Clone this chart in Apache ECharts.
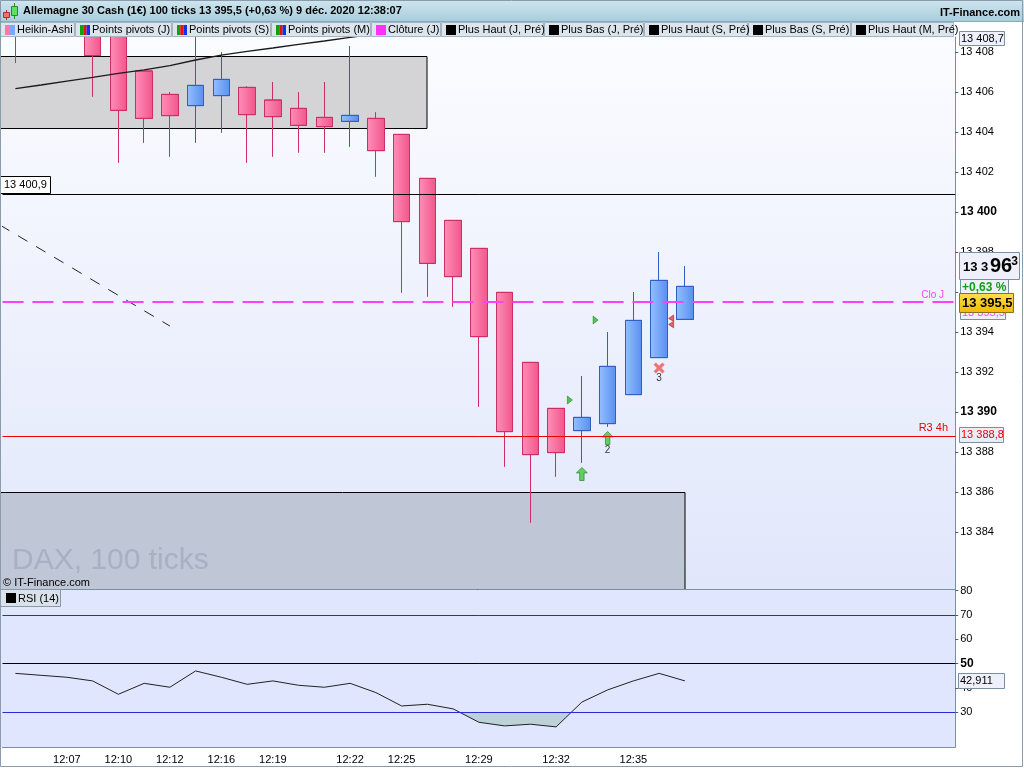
<!DOCTYPE html>
<html>
<head>
<meta charset="utf-8">
<script src="https://cdn.jsdelivr.net/npm/echarts@6/dist/echarts.min.js"></script>
<style>
html, body { margin: 0; padding: 0; background: #fff; }
#chart { width: 1024px; height: 768px; }
</style>
</head>
<body>
<div id="chart"></div>
<script>
// DAX 100 ticks, Heikin-Ashi candles + RSI(14)
var times = ['12:05','12:06','12:07','12:08','12:10','12:11','12:12','12:14','12:16','12:17','12:19','12:20','12:21','12:22',
             '12:24','12:25','12:26','12:27','12:29','12:30','12:31','12:32','12:33','12:34','12:35','12:36','12:38'];
var haOpen  = [13411.0,13410.3,13410.6,13410.5,13409.15,13407.05,13405.88,13405.32,13405.82,13406.23,13405.6,13405.18,13404.73,13404.53,
               13404.68,13403.88,13401.68,13399.58,13398.18,13395.98,13392.48,13390.18,13389.07,13389.42,13390.87,13392.72,13394.63];
var haClose = [13409.6,13410.9,13410.4,13407.82,13405.08,13404.68,13404.82,13406.33,13406.63,13404.87,13404.77,13404.33,13404.27,13404.83,
               13403.07,13399.52,13397.43,13396.77,13393.77,13389.02,13387.87,13387.97,13389.73,13392.28,13394.58,13396.58,13396.28];
var haLow   = [13407.45,13409.2,13409.0,13405.77,13402.47,13403.47,13402.77,13403.47,13403.97,13402.47,13402.77,13402.97,13402.97,13403.27,
               13401.77,13395.97,13395.77,13395.27,13390.27,13387.27,13384.47,13386.77,13387.47,13389.27,13390.87,13392.72,13394.63];
var haHigh  = [13411.5,13411.8,13411.4,13410.8,13409.3,13407.05,13406.0,13409.2,13407.98,13406.28,13406.5,13406.0,13406.5,13408.3,
               13404.98,13403.88,13401.68,13399.58,13398.18,13395.98,13392.48,13390.18,13391.8,13394.0,13396.0,13398.0,13397.3];
var avgLine = [13406.17,13406.35,13406.54,13406.73,13406.93,13407.11,13407.32,13407.6,13407.84,13408.03,13408.2,13408.38,13408.55,13408.73,
               13408.9,13409.05];
var rsi = [46.0,45.2,44.4,42.9,37.4,41.9,40.3,47.0,44.4,41.5,42.9,41.1,40.3,41.9,38.1,32.6,33.3,31.4,25.9,24.4,25.1,24.0,34.2,39.2,42.9,46.0,42.911];

var tickIdx  = [2,4,6,8,10,11,13,15,16,18,19,21,24,25];
var labelIdx = [2,4,6,8,10,13,15,18,21,24];
var priceTicks = [13384,13386,13388,13390,13392,13394,13396,13398,13400,13402,13404,13406,13408];
var rsiTicks = [30,40,50,60,70,80];

var pivotLine = 13400.9, cloJ = 13395.5, r3 = 13388.8, lastPrice = 13395.5, topPrice = 13408.7;
var rsiLow = 30;
var changePct = '+0,63 %';
var trendLine = [[-0.6, 13399.35], [6, 13394.3]];
// zones: [last category, top, bottom]
var zones = [[16, 13407.78, 13404.18], [26, 13385.98, 13381.15]];
var arrowsUp = [[22, 13386.9, ''], [23, 13388.7, '2']];
var triangles = [[22, 13390.6], [23, 13394.6]];
var crosses = [[25, 13392.2, '3']];
var chevrons = [[25, 13394.53]];

var FONT = '"Liberation Sans", Arial, sans-serif';
var NCAT = 37;
var cats = times.slice();
while (cats.length < NCAT) cats.push('');

function fmtNum(v, dec) {
	var s = v.toFixed(dec);
	var parts = s.split('.');
	var ip = parts[0].replace(/\B(?=(\d{3})+(?!\d))/g, ' ');
	return parts.length > 1 ? ip + ',' + parts[1] : ip;
}

var candleData = haOpen.map(function (o, i) { return [o, haClose[i], haLow[i], haHigh[i]]; });
var zoneFill = ['#d4d4d7', '#bfc6d6'];

var G = echarts.graphic;
var pinkGrad = new G.LinearGradient(0, 0, 1, 0, [{offset: 0, color: '#ff8fb8'}, {offset: 1, color: '#f0568a'}]);
var blueGrad = new G.LinearGradient(0, 0, 1, 0, [{offset: 0, color: '#93c0ff'}, {offset: 1, color: '#5a8ef0'}]);

var chart = echarts.init(document.getElementById('chart'));

var option = {
	animation: false,
	textStyle: { fontFamily: FONT },
	grid: [
		{ left: 2.5, right: 68.75, top: 37, bottom: 179 },
		{ left: 2.5, right: 68.75, top: 589.5, bottom: 21 }
	],
	xAxis: [
		{ type: 'category', gridIndex: 0, data: cats, show: false, axisLine: { onZero: false } },
		{
			type: 'category', gridIndex: 1, data: cats,
			axisLine: { onZero: false, lineStyle: { color: '#7890a0' } },
			axisTick: { alignWithLabel: true, length: 4, lineStyle: { color: '#7890a0' },
				interval: function (i) { return tickIdx.indexOf(i) >= 0; } },
			axisLabel: { color: '#000', fontSize: 11, margin: 7,
				interval: function (i) { return labelIdx.indexOf(i) >= 0; } },
			splitLine: { show: false }
		},
		{ type: 'value', gridIndex: 0, min: -0.5, max: NCAT - 0.5, show: false, axisLine: { onZero: false } }
	],
	yAxis: [
		{
			type: 'value', gridIndex: 0, position: 'right', min: 13381.15, max: 13408.75,
			axisLine: { show: true, onZero: false, lineStyle: { color: '#7890a0' } },
			axisTick: { show: true, customValues: priceTicks, length: 3, lineStyle: { color: '#506070' } },
			axisLabel: { customValues: priceTicks, margin: 5, fontSize: 11, color: '#000',
				formatter: function (v) { var s = fmtNum(v, 0); return v % 10 === 0 ? '{b|' + s + '}' : s; },
				rich: { b: { fontWeight: 'bold', fontSize: 12, color: '#000' } } },
			splitLine: { show: false }
		},
		{
			type: 'value', gridIndex: 1, position: 'right', min: 15.73, max: 80.48,
			axisLine: { show: true, onZero: false, lineStyle: { color: '#7890a0' } },
			axisTick: { show: true, customValues: rsiTicks, length: 3, lineStyle: { color: '#506070' } },
			axisLabel: { customValues: rsiTicks, margin: 5, fontSize: 11, color: '#000',
				formatter: function (v) { return v === 50 ? '{b|' + v + '}' : String(v); },
				rich: { b: { fontWeight: 'bold', fontSize: 12, color: '#000' } } },
			splitLine: { show: false }
		}
	],
	series: [
		{
			type: 'custom', xAxisIndex: 0, yAxisIndex: 0, silent: true, data: zones,
			renderItem: function (params, api) {
				var cs = params.coordSys;
				var pTop = api.coord([api.value(0), api.value(1)]);
				var pBot = api.coord([api.value(0), api.value(2)]);
				var x0 = cs.x - 2.5;
				var y0 = Math.max(cs.y, pTop[1]);
				var y1 = Math.min(cs.y + cs.height, pBot[1]);
				return { type: 'rect', shape: { x: x0, y: Math.round(y0) + 0.5, width: Math.round(pTop[0] - x0), height: Math.round(y1 - y0) },
					style: { fill: zoneFill[params.dataIndex], stroke: '#000', lineWidth: 1 } };
			}
		},
		{
			type: 'line', xAxisIndex: 0, yAxisIndex: 0, data: avgLine, symbol: 'none', silent: true,
			lineStyle: { color: '#1a1a1a', width: 1.3 }
		},
		{
			type: 'line', xAxisIndex: 2, yAxisIndex: 0, data: trendLine, symbol: 'none', silent: true,
			lineStyle: { color: '#222', width: 1, type: [11, 10] }
		},
		{
			type: 'candlestick', xAxisIndex: 0, yAxisIndex: 0, barWidth: 17, data: candleData,
			itemStyle: { color: blueGrad, color0: pinkGrad, borderColor: '#2f5fc4', borderColor0: '#cc2f62', borderWidth: 1 },
			markLine: {
				silent: true, symbol: ['none', 'none'], label: { show: false },
				data: [
					{ yAxis: pivotLine, lineStyle: { color: '#000', width: 1, type: 'solid' } },
					{ yAxis: r3, lineStyle: { color: '#f00000', width: 1, type: 'solid' } },
					{ yAxis: cloJ, lineStyle: { color: '#ff40ff', width: 2, type: [21, 9] } }
				]
			}
		},
		{
			type: 'scatter', xAxisIndex: 0, yAxisIndex: 0, data: triangles, silent: true,
			symbol: 'path://M0,0L5,4L0,8Z', symbolSize: [5, 8], symbolOffset: [-12, 0],
			itemStyle: { color: '#2cb82c', borderColor: '#137013', borderWidth: 0.6 }
		},
		{
			type: 'scatter', xAxisIndex: 0, yAxisIndex: 0, data: arrowsUp, silent: true,
			symbol: 'path://M5,0L10,5L7,5L7,12L3,12L3,5L0,5Z', symbolSize: [11, 13],
			itemStyle: { color: '#3cc83c', borderColor: '#1b7d1b', borderWidth: 0.8 },
			label: { show: true, position: 'bottom', distance: 0, fontSize: 10, color: '#000',
				formatter: function (p) { return p.value[2]; } }
		},
		{
			type: 'scatter', xAxisIndex: 0, yAxisIndex: 0, data: crosses, silent: true,
			symbol: 'path://M0,2L2,0L5,3L8,0L10,2L7,5L10,8L8,10L5,7L2,10L0,8L3,5Z', symbolSize: 11,
			itemStyle: { color: '#f05252' },
			label: { show: true, position: 'bottom', distance: 0, fontSize: 10, color: '#000',
				formatter: function (p) { return p.value[2]; } }
		},
		{
			type: 'scatter', xAxisIndex: 0, yAxisIndex: 0, data: chevrons, silent: true,
			symbol: 'path://M5,0L0,3.5L5,6.5L0,9.5L5,13Z', symbolSize: [5, 13], symbolOffset: [12, 0],
			itemStyle: { color: '#e83a3a', borderColor: '#a01818', borderWidth: 0.6 }
		},
		{
			// oversold fill between RSI and the 30 line
			type: 'custom', xAxisIndex: 1, yAxisIndex: 1, silent: true, data: [[0, rsiLow]],
			renderItem: function (params, api) {
				var y30 = api.coord([0, rsiLow])[1];
				var pts = rsi.map(function (v, i) { return api.coord([i, v]); });
				var polys = [], cur = null;
				for (var i = 0; i < rsi.length; i++) {
					var below = rsi[i] < rsiLow;
					if (i > 0) {
						var was = rsi[i - 1] < rsiLow;
						if (below !== was) {
							var t = (rsiLow - rsi[i - 1]) / (rsi[i] - rsi[i - 1]);
							var cx = pts[i - 1][0] + t * (pts[i][0] - pts[i - 1][0]);
							if (below) { cur = [[cx, y30]]; }
							else { cur.push([cx, y30]); polys.push(cur); cur = null; }
						}
					} else if (below) {
						cur = [[pts[0][0], y30]];
					}
					if (below) cur.push(pts[i]);
				}
				if (cur) { cur.push([pts[rsi.length - 1][0], y30]); polys.push(cur); }
				return { type: 'group', children: polys.map(function (p) {
					return { type: 'polygon', shape: { points: p }, style: { fill: '#bcd2d6' } };
				}) };
			}
		},
		{
			type: 'line', xAxisIndex: 1, yAxisIndex: 1, data: rsi, symbol: 'none', silent: true,
			lineStyle: { color: '#222', width: 1 },
			markLine: {
				silent: true, symbol: ['none', 'none'], label: { show: false },
				data: [
					{ yAxis: 70, lineStyle: { color: '#2b2bd6', width: 1, type: 'solid' } },
					{ yAxis: 50, lineStyle: { color: '#000', width: 1, type: 'solid' } },
					{ yAxis: 30, lineStyle: { color: '#2b2bd6', width: 1, type: 'solid' } }
				]
			}
		}
	]
};
chart.setOption(option);

// ---- decorations: panels, header, legend bar, value boxes ----
function py(v) { return chart.convertToPixel({ yAxisIndex: 0 }, v); }
function ry(v) { return chart.convertToPixel({ yAxisIndex: 1 }, v); }

var els = [];
function rect(x, y, w, h, fill, stroke, z) {
	els.push({ type: 'rect', silent: true, z: z, shape: { x: x, y: y, width: w, height: h },
		style: { fill: fill, stroke: stroke || null, lineWidth: 1 } });
}
function line(x1, y1, x2, y2, color, z) {
	els.push({ type: 'line', silent: true, z: z, shape: { x1: x1, y1: y1, x2: x2, y2: y2 },
		style: { stroke: color, lineWidth: 1 } });
}
function text(x, y, str, font, fill, align, z) {
	els.push({ type: 'text', silent: true, z: z || 100, x: x, y: y,
		style: { text: str, font: font, fill: fill || '#000', align: align || 'left', verticalAlign: 'middle' } });
}
function f(size, bold) { return (bold ? 'bold ' : '') + size + 'px ' + FONT; }

// panel backgrounds
rect(0, 37, 955, 552, new G.LinearGradient(0, 0, 0, 1, [{offset: 0, color: '#fbfcff'}, {offset: 1, color: '#e1e7fb'}]), null, -10);
rect(0, 589, 955, 158, '#dfe6fd', null, -10);
line(0.5, 22, 0.5, 747, '#7890a0', 50);
line(0, 589.5, 955, 589.5, '#7890a0', 50);
rect(0.5, 0.5, 1022, 766, null, '#8a9cab', 101);

// header
rect(0, 0, 1024, 21, new G.LinearGradient(0, 0, 0, 1, [{offset: 0, color: '#cfe5ee'}, {offset: 1, color: '#a8cedd'}]), null, 90);
line(0, 21.5, 1024, 21.5, '#8aa8b8', 91);
line(6.5, 10, 6.5, 20, '#b03030', 92);
rect(3.5, 12.5, 6, 5, '#f07070', '#b03030', 93);
line(14.5, 3, 14.5, 19, '#2a8a2a', 92);
rect(11.5, 6.5, 6, 9, '#60e060', '#2a8a2a', 93);
text(23, 11, 'Allemagne 30 Cash (1€) 100 ticks 13 395,5 (+0,63 %) 9 déc. 2020 12:38:07', f(11, true), '#000', 'left', 94);
text(1020, 13, 'IT-Finance.com', f(11, true), '#000', 'right', 94);

// legend bar
var legendItems = [
	['Heikin-Ashi', 0, 75, 'ha'], ['Points pivots (J)', 75, 97, 'pp'], ['Points pivots (S)', 172, 99, 'pp'],
	['Points pivots (M)', 271, 100, 'pp'], ['Clôture (J)', 371, 70, 'mag'], ['Plus Haut (J, Pré)', 441, 103, 'blk'],
	['Plus Bas (J, Pré)', 544, 100, 'blk'], ['Plus Haut (S, Pré)', 644, 104, 'blk'], ['Plus Bas (S, Pré)', 748, 103, 'blk'],
	['Plus Haut (M, Pré)', 851, 103, 'blk']
];
legendItems.forEach(function (it) {
	var x = it[1];
	rect(x + 0.5, 22.5, it[2] - 1, 14, '#dde5ec', '#a4b4c2', 90);
	if (it[3] === 'ha') {
		rect(x + 5, 25, 5, 10, '#ff78a8', null, 92);
		rect(x + 10, 25, 5, 10, '#78a8ff', null, 92);
	} else if (it[3] === 'pp') {
		rect(x + 5, 25, 3.3, 10, '#10a010', null, 92);
		rect(x + 8.3, 25, 3.3, 10, '#e81010', null, 92);
		rect(x + 11.6, 25, 3.4, 10, '#1030f0', null, 92);
	} else {
		rect(x + 5, 25, 10, 10, it[3] === 'mag' ? '#ff30ff' : '#000', null, 92);
	}
	text(x + 17, 30, it[0], f(11), '#000', 'left', 93);
});

// watermark
text(12, 561, 'DAX, 100 ticks', f(30), '#a8b0c3', 'left', 5);
text(3, 583, '© IT-Finance.com', f(11), '#000', 'left', 5);

// RSI legend
rect(0.5, 589.5, 60, 17, '#d9e2ea', '#8898a8', 90);
rect(6, 593, 10, 10, '#000', null, 92);
text(18, 598.5, 'RSI (14)', f(11), '#000', 'left', 93);

// line labels
var yPivot = py(pivotLine), yClo = py(cloJ), yR3 = py(r3), yLast = py(lastPrice);
rect(0.5, Math.round(yPivot) - 17.5, 50, 17, '#fff', '#000', 60);
text(4, Math.round(yPivot) - 9, fmtNum(pivotLine, 1), f(11), '#000', 'left', 61);
text(944, yClo - 7, 'Clo J', f(10), '#ff40ff', 'right', 61);
text(948, yR3 - 8, 'R3 4h', f(11), '#f00000', 'right', 61);

// right axis value boxes
var yTop = py(topPrice);
rect(959.5, Math.round(yTop) - 6.5, 45, 14, '#eef1fb', '#7a8ea6', 70);
text(961, Math.round(yTop) + 0.5, fmtNum(topPrice, 1), f(11), '#000', 'left', 71);

rect(959.5, Math.round(yR3) - 8.5, 44, 15, '#e9edf8', '#7a8ea6', 70);
text(961, Math.round(yR3) - 1, fmtNum(r3, 1), f(11), '#f00000', 'left', 71);

rect(960.5, Math.round(yLast) - 23.5, 48, 17, '#eef1fb', '#7a8ea6', 70);
text(962, Math.round(yLast) - 14, changePct, f(12, true), '#10a010', 'left', 71);
var lastHa = haClose[haClose.length - 1];
var haStr = fmtNum(lastHa, 1);
rect(959.5, Math.round(yLast) - 49.5, 60, 27, '#eef1fb', '#7a8ea6', 72);
text(963, Math.round(yLast) - 35, haStr.slice(0, 4), f(13, true), '#000', 'left', 73);
text(990, Math.round(yLast) - 36, haStr.slice(4, 6), f(20, true), '#000', 'left', 73);
text(1008, Math.round(yLast) - 40, haStr.slice(6), f(12, true), '#000', 'left', 73);

rect(960.5, Math.round(yClo) + 3.5, 45, 14, '#eef1fb', '#7a8ea6', 74);
text(962, Math.round(yClo) + 11, fmtNum(cloJ, 1), f(11), '#ff40ff', 'left', 75);
rect(959.5, Math.round(yLast) - 8.5, 54, 19, new G.LinearGradient(0, 0, 0, 1, [{offset: 0, color: '#ffe14a'}, {offset: 1, color: '#f2b800'}]), '#8a7020', 76);
text(962, Math.round(yLast) + 1.5, fmtNum(lastPrice, 1), f(13, true), '#000', 'left', 77);

var yRsi = ry(rsi[rsi.length - 1]);
rect(958.5, Math.round(yRsi) - 7.5, 46, 15, '#eef1fb', '#7a8ea6', 70);
text(960, Math.round(yRsi), fmtNum(rsi[rsi.length - 1], 3), f(11), '#000', 'left', 71);

chart.setOption({ graphic: { elements: els } });
</script>
</body>
</html>
